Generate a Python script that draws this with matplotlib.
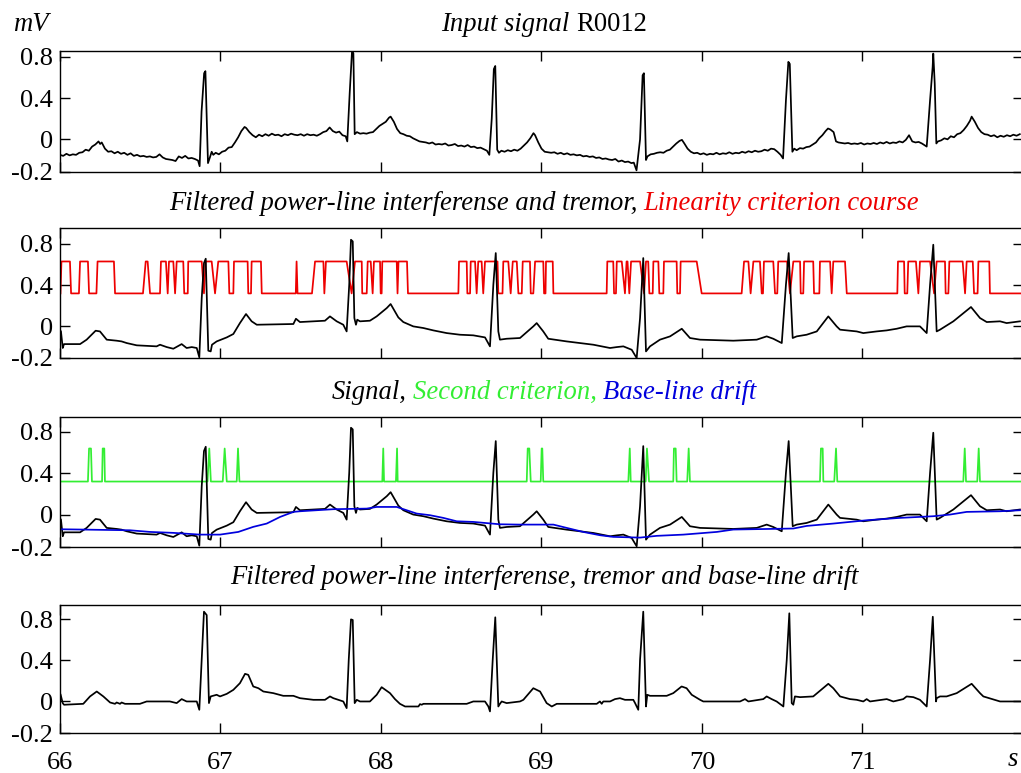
import matplotlib.pyplot as plt
import numpy as np

plt.rcParams['font.family'] = ['Liberation Serif', 'DejaVu Serif']

# ---- data (time in s, amplitude in mV) ----
# input signal R0012 (noisy)
input_pts = [
    (66.00, -0.15), (66.02, -0.16), (66.04, -0.14), (66.06, -0.155), (66.08, -0.145), (66.10, -0.15),
    (66.12, -0.13), (66.14, -0.125), (66.16, -0.10), (66.18, -0.11), (66.20, -0.07), (66.22, -0.05),
    (66.24, -0.02), (66.25, -0.045), (66.26, -0.03), (66.28, -0.09), (66.30, -0.12), (66.32, -0.115),
    (66.34, -0.135), (66.36, -0.12), (66.38, -0.14), (66.40, -0.13), (66.42, -0.15), (66.44, -0.135),
    (66.46, -0.16), (66.48, -0.15), (66.50, -0.165), (66.52, -0.16), (66.54, -0.17), (66.56, -0.165),
    (66.58, -0.175), (66.60, -0.17), (66.62, -0.145), (66.64, -0.175), (66.66, -0.19), (66.68, -0.195),
    (66.70, -0.20), (66.72, -0.21), (66.74, -0.165), (66.76, -0.18), (66.78, -0.16), (66.80, -0.185),
    (66.82, -0.18), (66.84, -0.19), (66.86, -0.205), (66.87, -0.26),
    (66.882, 0.27), (66.898, 0.64), (66.906, 0.66), (66.922, -0.23), (66.935, -0.17), (66.945, -0.12),
    (66.955, -0.15), (66.97, -0.13), (66.99, -0.145), (67.01, -0.12), (67.03, -0.11), (67.05, -0.08),
    (67.07, -0.075), (67.09, -0.03), (67.11, 0.02), (67.13, 0.08), (67.15, 0.12), (67.16, 0.11),
    (67.18, 0.07), (67.20, 0.04), (67.22, 0.02), (67.24, 0.045), (67.26, 0.03), (67.28, 0.05),
    (67.30, 0.035), (67.32, 0.055), (67.34, 0.04), (67.36, 0.045), (67.38, 0.03), (67.40, 0.05),
    (67.42, 0.04), (67.44, 0.055), (67.46, 0.045), (67.48, 0.04), (67.50, 0.05), (67.52, 0.035),
    (67.54, 0.05), (67.56, 0.04), (67.58, 0.045), (67.60, 0.035), (67.62, 0.05), (67.64, 0.07),
    (67.66, 0.08), (67.68, 0.115), (67.70, 0.08), (67.72, 0.065), (67.74, 0.075), (67.76, 0.04),
    (67.78, 0.03), (67.79, -0.02),
    (67.805, 0.45), (67.82, 0.87), (67.828, 0.83), (67.836, 0.05), (67.85, 0.07), (67.87, 0.055),
    (67.89, 0.06), (67.91, 0.055), (67.93, 0.065), (67.95, 0.07), (67.97, 0.10), (67.99, 0.13),
    (68.01, 0.15), (68.03, 0.17), (68.05, 0.21), (68.06, 0.22), (68.08, 0.17), (68.10, 0.10),
    (68.12, 0.06), (68.14, 0.05), (68.16, 0.035), (68.18, 0.03), (68.20, 0.01), (68.22, -0.005),
    (68.24, -0.02), (68.26, -0.025), (68.28, -0.03), (68.30, -0.04), (68.32, -0.03), (68.34, -0.05),
    (68.36, -0.045), (68.38, -0.05), (68.40, -0.04), (68.42, -0.06), (68.44, -0.055), (68.46, -0.045),
    (68.48, -0.065), (68.50, -0.06), (68.52, -0.07), (68.54, -0.055), (68.56, -0.075), (68.58, -0.07),
    (68.60, -0.085), (68.62, -0.08), (68.64, -0.095), (68.66, -0.11), (68.675, -0.15),
    (68.69, 0.20), (68.703, 0.68), (68.712, 0.71), (68.724, -0.10), (68.735, -0.13), (68.75, -0.11),
    (68.77, -0.12), (68.79, -0.105), (68.81, -0.115), (68.83, -0.10), (68.85, -0.11), (68.87, -0.09),
    (68.89, -0.06), (68.91, -0.03), (68.93, 0.01), (68.95, 0.06), (68.96, 0.04), (68.98, -0.03),
    (69.00, -0.09), (69.02, -0.12), (69.04, -0.125), (69.06, -0.13), (69.08, -0.125), (69.10, -0.14),
    (69.12, -0.13), (69.14, -0.145), (69.16, -0.135), (69.18, -0.15), (69.20, -0.145), (69.22, -0.155),
    (69.24, -0.15), (69.26, -0.165), (69.28, -0.16), (69.30, -0.17), (69.32, -0.165), (69.34, -0.18),
    (69.36, -0.175), (69.38, -0.19), (69.40, -0.185), (69.42, -0.195), (69.44, -0.20), (69.46, -0.19),
    (69.48, -0.215), (69.50, -0.205), (69.52, -0.22), (69.54, -0.215), (69.56, -0.23), (69.575, -0.225),
    (69.592, -0.30),
    (69.614, 0.0), (69.63, 0.62), (69.638, 0.64), (69.651, -0.20), (69.66, -0.165), (69.68, -0.145),
    (69.70, -0.14), (69.72, -0.13), (69.74, -0.125), (69.76, -0.13), (69.78, -0.11), (69.80, -0.10),
    (69.82, -0.07), (69.84, -0.04), (69.86, -0.015), (69.875, -0.005), (69.89, -0.04), (69.91, -0.09),
    (69.93, -0.12), (69.95, -0.135), (69.97, -0.13), (69.99, -0.145), (70.01, -0.135), (70.03, -0.15),
    (70.05, -0.14), (70.07, -0.145), (70.09, -0.13), (70.11, -0.145), (70.13, -0.135), (70.15, -0.14),
    (70.17, -0.125), (70.19, -0.14), (70.21, -0.13), (70.23, -0.135), (70.25, -0.12), (70.27, -0.13),
    (70.29, -0.115), (70.31, -0.125), (70.33, -0.11), (70.35, -0.12), (70.37, -0.115), (70.39, -0.10),
    (70.41, -0.11), (70.43, -0.09), (70.45, -0.095), (70.47, -0.12), (70.49, -0.15), (70.505, -0.185),
    (70.523, 0.38), (70.538, 0.75), (70.547, 0.73), (70.563, -0.12), (70.575, -0.09), (70.59, -0.105),
    (70.61, -0.085), (70.63, -0.09), (70.65, -0.075), (70.67, -0.07), (70.69, -0.05), (70.71, -0.03),
    (70.73, 0.01), (70.75, 0.04), (70.77, 0.08), (70.785, 0.105), (70.80, 0.095), (70.82, 0.07),
    (70.835, -0.02), (70.85, -0.03), (70.87, -0.035), (70.89, -0.04), (70.91, -0.035), (70.93, -0.045),
    (70.95, -0.04), (70.97, -0.045), (70.99, -0.035), (71.01, -0.05), (71.03, -0.04), (71.05, -0.045),
    (71.07, -0.035), (71.09, -0.045), (71.11, -0.03), (71.13, -0.04), (71.15, -0.025), (71.17, -0.04),
    (71.19, -0.03), (71.21, -0.035), (71.23, -0.02), (71.25, -0.03), (71.27, -0.005), (71.29, 0.04),
    (71.31, -0.02), (71.33, -0.03), (71.35, -0.025), (71.37, -0.04), (71.39, -0.06), (71.40, -0.07),
    (71.421, 0.38), (71.437, 0.70), (71.441, 0.83), (71.45, 0.54), (71.46, -0.04), (71.47, -0.02),
    (71.49, -0.01), (71.51, 0.01), (71.53, 0.0), (71.55, 0.03), (71.57, 0.02), (71.59, 0.05),
    (71.61, 0.06), (71.63, 0.09), (71.65, 0.13), (71.67, 0.18), (71.68, 0.22), (71.70, 0.17),
    (71.72, 0.11), (71.74, 0.07), (71.76, 0.05), (71.78, 0.045), (71.80, 0.03), (71.82, 0.04),
    (71.84, 0.02), (71.86, 0.035), (71.88, 0.025), (71.90, 0.04), (71.92, 0.03), (71.94, 0.045),
    (71.96, 0.035), (71.98, 0.05),
]

# signal after power-line interference and tremor filtering
filtered_pts = [
    (66.006, -0.049), (66.017, -0.210), (66.025, -0.172), (66.125, -0.172), (66.166, -0.129),
    (66.222, -0.042), (66.249, -0.049), (66.291, -0.129), (66.353, -0.139), (66.384, -0.146),
    (66.416, -0.162), (66.478, -0.184), (66.602, -0.194), (66.623, -0.178), (66.665, -0.201),
    (66.706, -0.217), (66.758, -0.172), (66.789, -0.210), (66.821, -0.201), (66.852, -0.210),
    (66.868, -0.301), (66.883, 0.275), (66.897, 0.615), (66.908, 0.657), (66.924, -0.236),
    (66.939, -0.243), (66.947, -0.178), (66.976, -0.146), (67.039, -0.107), (67.080, -0.074),
    (67.121, 0.032), (67.159, 0.120), (67.194, 0.049), (67.226, 0.016), (67.454, 0.023),
    (67.470, 0.074), (67.495, 0.042), (67.651, 0.055), (67.682, 0.097), (67.724, 0.049),
    (67.765, 0.016), (67.786, -0.049), (67.802, 0.405), (67.813, 0.841), (67.824, 0.825),
    (67.834, 0.081), (67.844, 0.016), (67.852, 0.065), (67.869, 0.049), (67.931, 0.055),
    (67.973, 0.097), (68.036, 0.178), (68.060, 0.217), (68.108, 0.087), (68.139, 0.042),
    (68.201, 0.0), (68.264, -0.016), (68.326, -0.039), (68.409, -0.065), (68.492, -0.081),
    (68.575, -0.087), (68.648, -0.107), (68.679, -0.194), (68.700, 0.405), (68.715, 0.712),
    (68.731, -0.049), (68.741, -0.129), (68.783, -0.120), (68.866, -0.113), (68.949, 0.0),
    (68.970, 0.032), (69.011, -0.049), (69.042, -0.120), (69.157, -0.146), (69.323, -0.178),
    (69.427, -0.210), (69.469, -0.201), (69.510, -0.194), (69.562, -0.227), (69.593, -0.307),
    (69.614, 0.081), (69.634, 0.663), (69.651, -0.243), (69.676, -0.194), (69.738, -0.129),
    (69.801, -0.097), (69.874, -0.023), (69.925, -0.113), (69.988, -0.129), (70.195, -0.139),
    (70.341, -0.129), (70.403, -0.097), (70.444, -0.120), (70.497, -0.162), (70.523, 0.405),
    (70.540, 0.712), (70.565, -0.113), (70.590, -0.097), (70.652, -0.081), (70.715, -0.049),
    (70.787, 0.097), (70.839, 0.0), (70.860, -0.032), (70.964, -0.049), (71.005, -0.065),
    (71.088, -0.049), (71.151, -0.039), (71.213, -0.023), (71.275, 0.0), (71.358, 0.0),
    (71.400, -0.065), (71.421, 0.405), (71.441, 0.793), (71.462, -0.049), (71.483, -0.032),
    (71.566, 0.049), (71.676, 0.188), (71.732, 0.081), (71.774, 0.042), (71.857, 0.049),
    (71.898, 0.032), (71.981, 0.049),
]

# linearity criterion course (red)
linearity_pts = [
    (66.003, 0.32), (66.009, 0.63), (66.062, 0.63), (66.069, 0.32), (66.118, 0.32), (66.125, 0.63),
    (66.174, 0.63), (66.181, 0.32), (66.227, 0.32), (66.234, 0.63), (66.336, 0.63), (66.343, 0.32),
    (66.517, 0.32), (66.534, 0.63), (66.546, 0.63), (66.561, 0.32), (66.623, 0.32), (66.629, 0.63),
    (66.660, 0.63), (66.671, 0.32), (66.679, 0.63), (66.706, 0.63), (66.717, 0.32), (66.727, 0.63),
    (66.768, 0.63), (66.774, 0.32), (66.796, 0.32), (66.799, 0.63), (66.883, 0.63), (66.897, 0.32),
    (66.907, 0.63), (66.945, 0.63), (66.966, 0.32), (66.986, 0.63), (67.049, 0.63), (67.055, 0.32),
    (67.080, 0.32), (67.084, 0.63), (67.169, 0.63), (67.173, 0.32), (67.190, 0.32), (67.194, 0.63),
    (67.252, 0.63), (67.257, 0.32),
    (67.469, 0.32), (67.474, 0.63), (67.480, 0.32), (67.570, 0.32), (67.589, 0.63), (67.641, 0.63),
    (67.647, 0.32), (67.657, 0.63), (67.786, 0.63), (67.817, 0.32), (67.838, 0.63), (67.880, 0.63),
    (67.883, 0.32), (67.911, 0.32), (67.917, 0.63), (67.936, 0.63), (67.948, 0.32), (67.956, 0.63),
    (67.994, 0.63), (67.998, 0.32), (68.004, 0.32), (68.008, 0.63), (68.098, 0.63), (68.103, 0.32),
    (68.109, 0.63), (68.162, 0.63), (68.168, 0.32),
    (68.482, 0.32), (68.486, 0.63), (68.534, 0.63), (68.538, 0.32), (68.555, 0.32), (68.559, 0.63),
    (68.586, 0.63), (68.596, 0.32), (68.606, 0.63), (68.627, 0.63), (68.637, 0.32), (68.648, 0.63),
    (68.726, 0.63), (68.731, 0.32), (68.757, 0.32), (68.762, 0.63), (68.793, 0.63), (68.808, 0.32),
    (68.821, 0.63), (68.846, 0.63), (68.856, 0.32), (68.877, 0.32), (68.883, 0.63), (68.928, 0.63),
    (68.933, 0.32), (68.949, 0.32), (68.960, 0.63), (69.011, 0.63), (69.016, 0.32), (69.025, 0.32),
    (69.028, 0.63), (69.070, 0.63), (69.074, 0.32),
    (69.406, 0.32), (69.410, 0.63), (69.447, 0.63), (69.452, 0.32), (69.464, 0.32), (69.469, 0.63),
    (69.500, 0.63), (69.520, 0.32), (69.530, 0.63), (69.536, 0.63), (69.547, 0.32), (69.558, 0.63),
    (69.614, 0.63), (69.639, 0.32), (69.651, 0.63), (69.665, 0.63), (69.672, 0.32), (69.693, 0.32),
    (69.697, 0.63), (69.728, 0.63), (69.734, 0.32), (69.759, 0.32), (69.763, 0.63), (69.842, 0.63),
    (69.846, 0.32), (69.863, 0.32), (69.867, 0.63), (69.967, 0.63), (69.998, 0.32),
    (70.247, 0.32), (70.262, 0.63), (70.289, 0.63), (70.303, 0.32), (70.320, 0.63), (70.361, 0.63),
    (70.372, 0.32), (70.380, 0.32), (70.386, 0.63), (70.444, 0.63), (70.455, 0.32), (70.469, 0.32),
    (70.475, 0.63), (70.530, 0.63), (70.548, 0.32), (70.569, 0.63), (70.611, 0.63), (70.615, 0.32),
    (70.631, 0.32), (70.636, 0.63), (70.693, 0.63), (70.698, 0.32), (70.731, 0.32), (70.735, 0.63),
    (70.798, 0.63), (70.808, 0.32), (70.818, 0.63), (70.891, 0.63), (70.902, 0.32),
    (71.217, 0.32), (71.221, 0.63), (71.259, 0.63), (71.263, 0.32), (71.279, 0.32), (71.285, 0.63),
    (71.333, 0.63), (71.348, 0.32), (71.358, 0.63), (71.421, 0.63), (71.446, 0.32), (71.462, 0.63),
    (71.514, 0.63), (71.518, 0.32), (71.535, 0.32), (71.541, 0.63), (71.624, 0.63), (71.639, 0.32),
    (71.649, 0.63), (71.687, 0.63), (71.695, 0.32), (71.717, 0.32), (71.722, 0.63), (71.790, 0.63),
    (71.794, 0.32), (71.988, 0.32),
]

# second criterion (green)
second_pts = [
    (66.000, 0.32), (66.174, 0.32), (66.181, 0.64), (66.193, 0.64), (66.199, 0.32), (66.262, 0.32),
    (66.266, 0.64), (66.276, 0.64), (66.280, 0.32), (66.919, 0.32), (66.930, 0.64), (66.940, 0.32),
    (67.014, 0.32), (67.026, 0.64), (67.039, 0.32), (67.101, 0.32), (67.109, 0.64), (67.118, 0.32),
    (68.008, 0.32), (68.014, 0.64), (68.019, 0.32), (68.093, 0.32), (68.100, 0.64), (68.104, 0.32),
    (68.908, 0.32), (68.914, 0.64), (68.924, 0.64), (68.933, 0.32), (68.995, 0.32), (69.001, 0.64),
    (69.005, 0.64), (69.011, 0.32), (69.541, 0.32), (69.550, 0.64), (69.556, 0.32), (69.649, 0.32),
    (69.657, 0.64), (69.670, 0.32), (69.821, 0.32), (69.825, 0.64), (69.836, 0.64), (69.842, 0.32),
    (69.908, 0.32), (69.917, 0.64), (69.925, 0.32), (70.735, 0.32), (70.741, 0.64), (70.752, 0.64),
    (70.756, 0.32), (70.824, 0.32), (70.835, 0.64), (70.843, 0.32), (71.628, 0.32), (71.637, 0.64),
    (71.645, 0.32), (71.715, 0.32), (71.724, 0.64), (71.732, 0.32), (71.990, 0.32),
]

# base-line drift (blue)
drift_pts = [
    (66.000, -0.142), (66.436, -0.152), (66.561, -0.168), (66.706, -0.177), (66.872, -0.194),
    (66.997, -0.194), (67.111, -0.168), (67.204, -0.119), (67.288, -0.087), (67.371, -0.023),
    (67.454, 0.026), (67.495, 0.032), (67.703, 0.052), (67.911, 0.058), (67.973, 0.074),
    (68.098, 0.074), (68.160, 0.042), (68.222, 0.010), (68.305, -0.006), (68.388, -0.032),
    (68.472, -0.065), (68.575, -0.071), (68.741, -0.094), (68.866, -0.097), (69.074, -0.097),
    (69.157, -0.129), (69.260, -0.168), (69.364, -0.200), (69.447, -0.216), (69.614, -0.223),
    (69.718, -0.206), (69.884, -0.194), (70.092, -0.168), (70.195, -0.145), (70.569, -0.135),
    (70.652, -0.110), (70.818, -0.087), (70.922, -0.071), (71.026, -0.055), (71.234, -0.032),
    (71.441, -0.016), (71.545, 0.000), (71.649, 0.026), (71.857, 0.032), (71.981, 0.042),
]

# signal after power-line, tremor and base-line drift filtering
clean_pts = [
    (66.004, 0.065), (66.017, -0.016), (66.025, -0.032), (66.145, -0.023), (66.187, 0.049),
    (66.229, 0.097), (66.270, 0.049), (66.312, -0.010), (66.343, -0.023), (66.353, -0.010),
    (66.374, -0.023), (66.384, -0.010), (66.405, -0.023), (66.498, -0.023), (66.540, 0.0),
    (66.685, 0.0), (66.727, -0.016), (66.758, 0.023), (66.789, 0.0), (66.852, 0.0),
    (66.868, -0.081), (66.883, 0.405), (66.897, 0.874), (66.914, 0.841), (66.928, -0.016),
    (66.939, 0.049), (66.976, 0.065), (66.997, 0.049), (67.039, 0.074), (67.080, 0.113),
    (67.121, 0.178), (67.153, 0.269), (67.173, 0.259), (67.204, 0.146), (67.236, 0.129),
    (67.267, 0.097), (67.329, 0.081), (67.391, 0.055), (67.454, 0.055), (67.495, 0.032),
    (67.579, 0.016), (67.651, 0.016), (67.682, 0.049), (67.703, 0.032), (67.765, 0.0),
    (67.786, -0.065), (67.799, 0.405), (67.813, 0.799), (67.824, 0.793), (67.836, -0.016),
    (67.849, 0.016), (67.869, 0.0), (67.931, 0.0), (67.973, 0.065), (68.004, 0.139),
    (68.056, 0.081), (68.087, 0.023), (68.118, -0.023), (68.150, -0.049), (68.233, -0.049),
    (68.243, -0.026), (68.254, -0.032), (68.264, -0.023), (68.534, -0.023), (68.575, 0.0),
    (68.648, 0.0), (68.669, -0.049), (68.679, -0.097), (68.696, 0.405), (68.712, 0.819),
    (68.731, -0.049), (68.741, -0.023), (68.752, 0.0), (68.783, -0.016), (68.866, 0.0),
    (68.887, 0.016), (68.949, 0.129), (68.991, 0.097), (69.032, -0.016), (69.064, -0.049),
    (69.095, -0.023), (69.344, -0.023), (69.364, 0.0), (69.375, -0.023), (69.385, 0.0),
    (69.427, 0.0), (69.458, 0.023), (69.489, 0.032), (69.520, 0.016), (69.572, 0.016),
    (69.583, -0.016), (69.603, -0.081), (69.614, 0.405), (69.634, 0.874), (69.651, -0.049),
    (69.659, 0.065), (69.676, 0.055), (69.780, 0.055), (69.821, 0.081), (69.873, 0.146),
    (69.904, 0.129), (69.936, 0.065), (69.988, 0.016), (70.008, 0.0), (70.237, 0.0),
    (70.268, 0.023), (70.289, 0.0), (70.382, 0.023), (70.403, 0.049), (70.434, 0.023),
    (70.465, 0.0), (70.507, -0.049), (70.528, 0.405), (70.544, 0.858), (70.559, -0.016),
    (70.569, -0.032), (70.579, 0.049), (70.611, 0.042), (70.693, 0.049), (70.787, 0.172),
    (70.818, 0.129), (70.860, 0.049), (70.922, 0.023), (70.964, 0.016), (71.005, 0.0),
    (71.026, 0.023), (71.047, 0.0), (71.151, 0.023), (71.192, 0.0), (71.254, 0.023),
    (71.275, 0.049), (71.317, 0.042), (71.358, 0.016), (71.400, -0.049), (71.421, 0.405),
    (71.438, 0.825), (71.458, 0.0), (71.462, 0.032), (71.483, 0.049), (71.524, 0.049),
    (71.587, 0.081), (71.680, 0.172), (71.732, 0.081), (71.753, 0.049), (71.857, 0.0),
    (71.981, 0.0),
]

x_ticks = [66, 67, 68, 69, 70, 71]
y_ticks = [0, 0.4, 0.8]
y_tick_labels = ['0', '0.4', '0.8']


def xy(pts):
    a = np.array(pts)
    return a[:, 0], a[:, 1]


W, H = 1021, 773
fig = plt.figure(figsize=(W / 100, H / 100), dpi=100)

TICK_FS = 19
TITLE_FS = 19.2
LW = 1.25
RED = '#ee0000'
GREEN = '#33ee33'
BLUE = '#0000dd'

# (top px, bottom px, ylim bottom, ylim top)
layout = [(51, 172, -0.316, 0.855),
          (228, 358, -0.307, 0.955),
          (417, 547, -0.314, 0.945),
          (605, 733, -0.307, 0.939)]

axes = []
for i, (top, bot, y0, y1) in enumerate(layout):
    ax = fig.add_axes([60 / W, 1 - bot / H, (1023 - 60) / W, (bot - top) / H])
    ax.set_xlim(66, 72)
    ax.set_ylim(y0, y1)
    ax.set_xticks(x_ticks)
    ax.set_yticks([y0] + y_ticks)
    ax.set_yticklabels(['-0.2'] + y_tick_labels)
    ax.tick_params(direction='in', top=True, right=True, length=7, width=1,
                   labelsize=TICK_FS, pad=5)
    ax.tick_params(axis='x', pad=14)
    if i < 3:
        ax.set_xticklabels([])
    for s in ax.spines.values():
        s.set_linewidth(1.0)
    axes.append(ax)

ax1, ax2, ax3, ax4 = axes

t, v = xy(input_pts)
ax1.plot(t, v, color='black', lw=LW)

t, v = xy(linearity_pts)
ax2.plot(t, v, color=RED, lw=LW)
t, v = xy(filtered_pts)
ax2.plot(t, v, color='black', lw=LW)

t, v = xy(second_pts)
ax3.plot(t, v, color=GREEN, lw=LW)
t, v = xy(filtered_pts)
ax3.plot(t, v, color='black', lw=LW)
t, v = xy(drift_pts)
ax3.plot(t, v, color=BLUE, lw=LW)

t, v = xy(clean_pts)
ax4.plot(t, v, color='black', lw=LW)

# titles built from coloured pieces, centred over the axes
renderer = fig.canvas.get_renderer()
space_px = TITLE_FS * 100 / 72 * 0.25


def piece_title(y_px, pieces, cx=544):
    arts = []
    for s, c, st in pieces:
        arts.append(fig.text(0, 1 - y_px / H, s, color=c, fontstyle=st,
                             fontsize=TITLE_FS, ha='left', va='baseline'))
    widths = [a.get_window_extent(renderer).width for a in arts]
    total = sum(widths) + space_px * (len(arts) - 1)
    x = cx - total / 2
    for a, w in zip(arts, widths):
        a.set_x(x / W)
        x += w + space_px


piece_title(31, [('Input signal', 'black', 'italic'), ('R0012', 'black', 'normal')])
piece_title(210, [('Filtered power-line interferense and tremor,', 'black', 'italic'),
                  ('Linearity criterion course', RED, 'italic')])
piece_title(399, [('Signal,', 'black', 'italic'), ('Second criterion,', GREEN, 'italic'),
                  ('Base-line drift', BLUE, 'italic')])
piece_title(584, [('Filtered power-line interferense, tremor and base-line drift', 'black', 'italic')])

fig.text(13 / W, 1 - 31 / H, 'mV', fontsize=TITLE_FS, fontstyle='italic', ha='left', va='baseline')
fig.text(1008 / W, 1 - 766 / H, 's', fontsize=TITLE_FS, fontstyle='italic', ha='left', va='baseline')

fig.savefig('out.png', dpi=100, facecolor='white')
